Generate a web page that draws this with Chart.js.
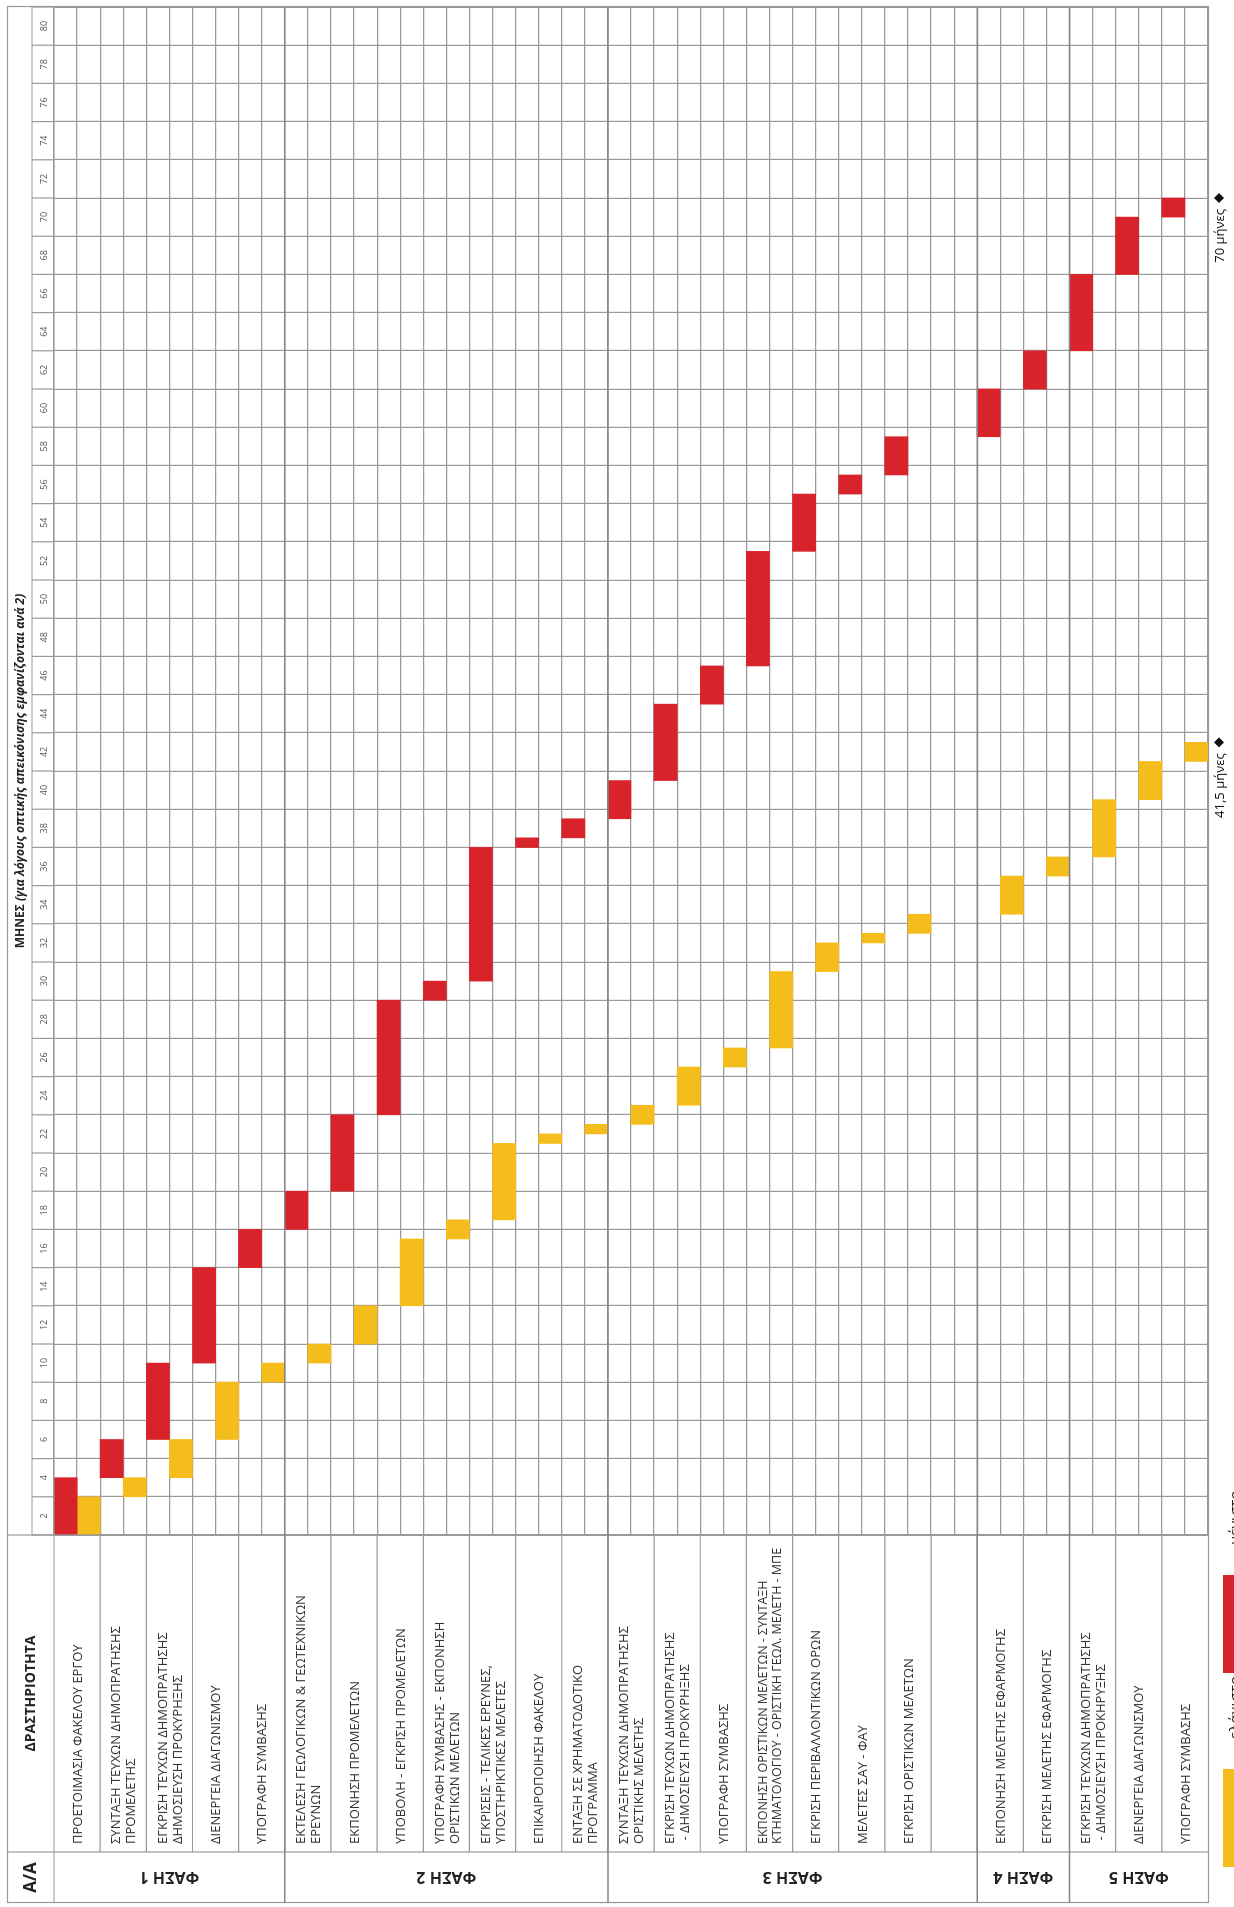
<!DOCTYPE html>
<html>
<head>
<meta charset="utf-8">
<script src="https://cdn.jsdelivr.net/npm/chart.js@4.4.1/dist/chart.umd.min.js"></script>
<style>
  html, body { margin: 0; padding: 0; background: #fff; overflow: hidden; }
  /* the chart is drawn as a normal gantt, then turned a quarter left like the scan */
  #wrap { position: absolute; left: 0; top: 0; width: 1907px; height: 1234px;
          transform-origin: 0 0; transform: translate(0, 1907px) rotate(-90deg); }
</style>
</head>
<body>
<div id="wrap"><canvas id="gantt" width="1907" height="1234"></canvas></div>
<script>
var activities = [
  'ΠΡΟΕΤΟΙΜΑΣΙΑ ΦΑΚΕΛΟΥ ΕΡΓΟΥ',
  ['ΣΥΝΤΑΞΗ ΤΕΥΧΩΝ ΔΗΜΟΠΡΑΤΗΣΗΣ', 'ΠΡΟΜΕΛΕΤΗΣ'],
  ['ΕΓΚΡΙΣΗ ΤΕΥΧΩΝ ΔΗΜΟΠΡΑΤΗΣΗΣ', 'ΔΗΜΟΣΙΕΥΣΗ ΠΡΟΚΥΡΗΞΗΣ'],
  'ΔΙΕΝΕΡΓΕΙΑ ΔΙΑΓΩΝΙΣΜΟΥ',
  'ΥΠΟΓΡΑΦΗ ΣΥΜΒΑΣΗΣ',
  ['ΕΚΤΕΛΕΣΗ ΓΕΩΛΟΓΙΚΩΝ & ΓΕΩΤΕΧΝΙΚΩΝ', 'ΕΡΕΥΝΩΝ'],
  'ΕΚΠΟΝΗΣΗ ΠΡΟΜΕΛΕΤΩΝ',
  'ΥΠΟΒΟΛΗ - ΕΓΚΡΙΣΗ ΠΡΟΜΕΛΕΤΩΝ',
  ['ΥΠΟΓΡΑΦΗ ΣΥΜΒΑΣΗΣ - ΕΚΠΟΝΗΣΗ', 'ΟΡΙΣΤΙΚΩΝ ΜΕΛΕΤΩΝ'],
  ['ΕΓΚΡΙΣΕΙΣ - ΤΕΛΙΚΕΣ ΕΡΕΥΝΕΣ,', 'ΥΠΟΣΤΗΡΙΚΤΙΚΕΣ ΜΕΛΕΤΕΣ'],
  'ΕΠΙΚΑΙΡΟΠΟΙΗΣΗ ΦΑΚΕΛΟΥ',
  ['ΕΝΤΑΞΗ ΣΕ ΧΡΗΜΑΤΟΔΟΤΙΚΟ', 'ΠΡΟΓΡΑΜΜΑ'],
  ['ΣΥΝΤΑΞΗ ΤΕΥΧΩΝ ΔΗΜΟΠΡΑΤΗΣΗΣ', 'ΟΡΙΣΤΙΚΗΣ ΜΕΛΕΤΗΣ'],
  ['ΕΓΚΡΙΣΗ ΤΕΥΧΩΝ ΔΗΜΟΠΡΑΤΗΣΗΣ', ' - ΔΗΜΟΣΙΕΥΣΗ ΠΡΟΚΥΡΗΞΗΣ'],
  'ΥΠΟΓΡΑΦΗ ΣΥΜΒΑΣΗΣ',
  ['ΕΚΠΟΝΗΣΗ ΟΡΙΣΤΙΚΩΝ ΜΕΛΕΤΩΝ - ΣΥΝΤΑΞΗ', 'ΚΤΗΜΑΤΟΛΟΓΙΟΥ - ΟΡΙΣΤΙΚΗ ΓΕΩΛ. ΜΕΛΕΤΗ - ΜΠΕ'],
  'ΕΓΚΡΙΣΗ ΠΕΡΙΒΑΛΛΟΝΤΙΚΩΝ ΟΡΩΝ',
  'ΜΕΛΕΤΕΣ ΣΑΥ - ΦΑΥ',
  'ΕΓΚΡΙΣΗ ΟΡΙΣΤΙΚΩΝ ΜΕΛΕΤΩΝ',
  '',
  'ΕΚΠΟΝΗΣΗ ΜΕΛΕΤΗΣ ΕΦΑΡΜΟΓΗΣ',
  'ΕΓΚΡΙΣΗ ΜΕΛΕΤΗΣ ΕΦΑΡΜΟΓΗΣ',
  ['ΕΓΚΡΙΣΗ ΤΕΥΧΩΝ ΔΗΜΟΠΡΑΤΗΣΗΣ', ' - ΔΗΜΟΣΙΕΥΣΗ ΠΡΟΚΗΡΥΞΗΣ'],
  'ΔΙΕΝΕΡΓΕΙΑ ΔΙΑΓΩΝΙΣΜΟΥ',
  'ΥΠΟΓΡΑΦΗ ΣΥΜΒΑΣΗΣ'
];

var phases = ['ΦΑΣΗ 1', 'ΦΑΣΗ 2', 'ΦΑΣΗ 3', 'ΦΑΣΗ 4', 'ΦΑΣΗ 5'];
var phaseRows = [5, 7, 8, 2, 3];

// months, "μέγιστο" (red) and "ελάχιστο" (yellow) schedules
var maxStart = [0, 3, 5, 9, 14, 16, 18, 22, 28, 29, 36, 36.5, 37.5, 39.5, 43.5, 45.5, 51.5, 54.5, 55.5, null, 57.5, 60, 62, 66, 69];
var maxEnd   = [3, 5, 9, 14, 16, 18, 22, 28, 29, 36, 36.5, 37.5, 39.5, 43.5, 45.5, 51.5, 54.5, 55.5, 57.5, null, 60, 62, 66, 69, 70];
var minStart = [0, 2, 3, 5, 8, 9, 10, 12, 15.5, 16.5, 20.5, 21, 21.5, 22.5, 24.5, 25.5, 29.5, 31, 31.5, null, 32.5, 34.5, 35.5, 38.5, 40.5];
var minEnd   = [2, 3, 5, 8, 9, 10, 12, 15.5, 16.5, 20.5, 21, 21.5, 22.5, 24.5, 25.5, 29.5, 31, 31.5, 32.5, null, 34.5, 35.5, 38.5, 40.5, 41.5];

var monthTicks = [2, 4, 6, 8, 10, 12, 14, 16, 18, 20, 22, 24, 26, 28, 30, 32, 34, 36, 38, 40,
                  42, 44, 46, 48, 50, 52, 54, 56, 58, 60, 62, 64, 66, 68, 70, 72, 74, 76, 78, 80];

var totals = [70, 41.5];
var totalLabels = ['70 μήνες', '41,5 μήνες'];

var seriesLabels = ['μέγιστο', 'ελάχιστο'];
var RED = '#D9232A';
var YELLOW = '#F5BD1C';
var LINE = '#999999';
var FONT = '"Open Sans", "DejaVu Sans", sans-serif';

// layout of the table part around the plot (canvas units before turning)
var T = { left: 4, top: 7, split: 32, aaRight: 55 };

// each activity gets two thin sub rows: red first, yellow second
var subRows = [], maxData = [], minData = [];
activities.forEach(function(a, i) {
  subRows.push(i + 'max', i + 'min');
  maxData.push(maxStart[i] === null ? null : [maxStart[i], maxEnd[i]], null);
  minData.push(null, minStart[i] === null ? null : [minStart[i], minEnd[i]]);
});

function line(ctx, x1, y1, x2, y2) {
  ctx.beginPath();
  ctx.moveTo(x1, y1);
  ctx.lineTo(x2, y2);
  ctx.stroke();
}

var tablePlugin = {
  id: 'ganttTable',
  afterDraw: function(chart) {
    var ctx = chart.ctx, a = chart.chartArea;
    var xs = chart.scales.x, ys = chart.scales.y;
    var sub = ys.getPixelForValue(1) - ys.getPixelForValue(0);
    function rowTop(i) { return ys.getPixelForValue(2 * i) - sub / 2; }

    ctx.save();
    ctx.strokeStyle = LINE;
    ctx.lineWidth = 1.2;

    // frame and header lines
    ctx.strokeRect(T.left + 0.5, T.top + 0.5, a.right - T.left, a.bottom - T.top);
    line(ctx, T.left, a.top, a.right, a.top);
    line(ctx, a.left, T.split, a.right, T.split);
    line(ctx, T.aaRight, T.top, T.aaRight, a.bottom);
    line(ctx, a.left, T.top, a.left, a.bottom);
    [0].concat(monthTicks).forEach(function(m) {
      var x = xs.getPixelForValue(m);
      line(ctx, x, T.split, x, a.top);
    });
    for (var i = 1; i < activities.length; i++) {
      line(ctx, T.aaRight, rowTop(i), a.left, rowTop(i));
    }
    ctx.strokeStyle = '#858585';
    ctx.lineWidth = 1.5;
    var r = 0;
    phaseRows.forEach(function(n, p) {
      if (p > 0) line(ctx, T.left, rowTop(r), a.right, rowTop(r));
      r += n;
    });

    // header texts
    ctx.fillStyle = '#222';
    ctx.textBaseline = 'middle';
    ctx.textAlign = 'center';
    ctx.font = 'bold 17px ' + FONT;
    ctx.fillText('A/A', (T.left + T.aaRight) / 2, (T.top + a.top) / 2 + 1);
    ctx.font = 'bold 14px ' + FONT;
    ctx.fillText('ΔΡΑΣΤΗΡΙΟΤΗΤΑ', (T.aaRight + a.left) / 2, (T.top + a.top) / 2 + 1);

    var t1 = 'ΜΗΝΕΣ ', t2 = '(για λόγους οπτικής απεικόνισης εμφανίζονται ανά 2)';
    ctx.font = 'bold 12px ' + FONT;
    var w1 = ctx.measureText(t1).width;
    ctx.font = 'italic bold 12px ' + FONT;
    var w2 = ctx.measureText(t2).width;
    var tx = (a.left + a.right) / 2 - (w1 + w2) / 2;
    ctx.textAlign = 'left';
    ctx.font = 'bold 12px ' + FONT;
    ctx.fillText(t1, tx, (T.top + T.split) / 2 + 1);
    ctx.font = 'italic bold 12px ' + FONT;
    ctx.fillText(t2, tx + w1, (T.top + T.split) / 2 + 1);

    // month numbers sit in the middle of each two month cell
    ctx.textAlign = 'center';
    ctx.fillStyle = '#555';
    ctx.font = '9px ' + FONT;
    monthTicks.forEach(function(m) {
      ctx.fillText(String(m), xs.getPixelForValue(m - 1), (T.split + a.top) / 2 + 1);
    });

    // phase names run across the narrow column
    ctx.fillStyle = '#222';
    ctx.font = 'bold 16px ' + FONT;
    r = 0;
    phaseRows.forEach(function(n, p) {
      ctx.save();
      ctx.translate((T.left + T.aaRight) / 2, (rowTop(r) + rowTop(r + n)) / 2);
      ctx.rotate(-Math.PI / 2);
      ctx.fillText(phases[p], 0, 1);
      ctx.restore();
      r += n;
    });

    // activity names
    ctx.textAlign = 'left';
    ctx.fillStyle = '#333';
    var maxW = a.left - T.aaRight - 14;
    activities.forEach(function(txt, i) {
      var lines = Array.isArray(txt) ? txt : [txt];
      var size = 13;
      ctx.font = size + 'px ' + FONT;
      lines.forEach(function(s) {
        while (ctx.measureText(s).width > maxW && size > 8) {
          size -= 0.5;
          ctx.font = size + 'px ' + FONT;
        }
      });
      var lh = size + 2;
      var cy = (rowTop(i) + rowTop(i + 1)) / 2 - (lines.length - 1) * lh / 2;
      lines.forEach(function(s, k) {
        ctx.fillText(s, T.aaRight + 8, cy + k * lh + 1);
      });
    });

    // total duration markers just past the last row
    ctx.fillStyle = '#111';
    ctx.font = '13px ' + FONT;
    ctx.textAlign = 'right';
    var my = a.bottom + 11;
    totals.forEach(function(v, k) {
      var x = xs.getPixelForValue(v);
      ctx.beginPath();
      ctx.moveTo(x - 5, my);
      ctx.lineTo(x, my - 5);
      ctx.lineTo(x + 5, my);
      ctx.lineTo(x, my + 5);
      ctx.closePath();
      ctx.fill();
      ctx.fillText(totalLabels[k], x - 11, my + 1);
    });

    // legend (cut by the page edge, as in the scan)
    var lg = [
      { text: seriesLabels[1], color: YELLOW, x: 40 },
      { text: seriesLabels[0], color: RED, x: 234 }
    ];
    ctx.textAlign = 'left';
    ctx.textBaseline = 'top';
    ctx.font = '15px ' + FONT;
    lg.forEach(function(it) {
      ctx.fillStyle = it.color;
      ctx.fillRect(it.x, 1223, 98, 30);
      ctx.fillStyle = '#222';
      ctx.fillText(it.text, it.x + 128, 1228);
    });
    ctx.restore();
  }
};

new Chart(document.getElementById('gantt'), {
  type: 'bar',
  data: {
    labels: subRows,
    datasets: [
      { label: seriesLabels[0], data: maxData, backgroundColor: RED },
      { label: seriesLabels[1], data: minData, backgroundColor: YELLOW }
    ]
  },
  options: {
    indexAxis: 'y',
    responsive: false,
    animation: false,
    devicePixelRatio: 1,
    layout: { padding: { left: 372, right: 7, top: 54, bottom: 26 } },
    datasets: {
      bar: { grouped: false, barPercentage: 1, categoryPercentage: 1, borderWidth: 0 }
    },
    scales: {
      x: {
        type: 'linear', min: 0, max: 80,
        ticks: { display: false, stepSize: 2 },
        grid: { color: LINE, lineWidth: 1.2, drawTicks: false },
        border: { color: LINE },
        afterFit: function(s) { s.height = 0; }
      },
      y: {
        ticks: { display: false },
        grid: { color: LINE, lineWidth: 1.2, drawTicks: false, offset: true },
        border: { color: LINE },
        afterFit: function(s) { s.width = 0; }
      }
    },
    plugins: {
      legend: { display: false },
      tooltip: { enabled: false }
    }
  },
  plugins: [tablePlugin]
});
</script>
</body>
</html>
